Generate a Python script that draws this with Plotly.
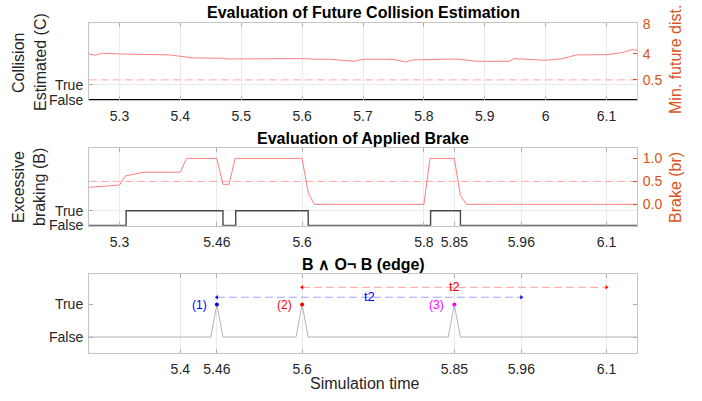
import plotly.graph_objects as go

FONT = "Liberation Sans, Arial, Helvetica, sans-serif"
ORANGE = "#D95319"
TXT = "#262626"
GRID = "#ebebeb"
FRAME = "#c4c4c4"

# ---------- Panel 1 data ----------
dist_t = [5.25, 5.26, 5.271, 5.30, 5.383, 5.394, 5.421, 5.47, 5.476, 5.607, 5.618, 5.645,
          5.678, 5.686, 5.70, 5.749, 5.77, 5.782, 5.853, 5.886, 5.94, 5.948, 6.0, 6.028,
          6.05, 6.099, 6.126, 6.14, 6.15]
dist_v = [3.98, 3.81, 4.08, 3.98, 3.85, 3.72, 3.45, 3.41, 3.31, 3.36, 3.27, 3.27,
          3.09, 3.0, 3.27, 3.27, 2.91, 3.18, 3.31, 3.0, 3.0, 3.36, 3.14, 3.36,
          3.85, 3.89, 4.16, 4.52, 4.52]
dist_threshold = 0.5
coll_t = [5.25, 6.15]
coll_v = [0, 0]
dist_ticks = [8, 4, 0.5]

# ---------- Panel 2 data ----------
brake_t = [5.25, 5.30, 5.31, 5.34, 5.40, 5.41, 5.46, 5.47, 5.48, 5.49, 5.60, 5.61, 5.62,
           5.80, 5.81, 5.85, 5.86, 5.87, 6.15]
brake_v = [0.37, 0.42, 0.62, 0.70, 0.70, 1.0, 1.0, 0.435, 0.435, 1.0, 1.0, 0.25, 0.0,
           0.0, 1.0, 1.0, 0.19, 0.0, 0.0]
brake_threshold = 0.5
exc_t = [5.25, 5.311, 5.47, 5.491, 5.61, 5.811, 5.86, 6.15]
exc_v = [0, 1, 0, 1, 0, 1, 0, 0]
brake_ticks = [0.0, 0.5, 1.0]

# ---------- Panel 3 data ----------
edge_t = [5.25, 5.45, 5.46, 5.47, 5.59, 5.60, 5.61, 5.84, 5.85, 5.86, 6.15]
edge_v = [0, 0, 1, 0, 0, 1, 0, 0, 1, 0, 0]
event_t = [5.46, 5.60, 5.85]
event_labels = ["(1)", "(2)", "(3)"]
event_colors = ["#0000ff", "#ff0000", "#ff00ff"]
t2_blue = [5.46, 5.96]
t2_red = [5.60, 6.10]
t2_blue_level = 1.225
t2_red_level = 1.53

x1_ticks = [5.3, 5.4, 5.5, 5.6, 5.7, 5.8, 5.9, 6.0, 6.1]
x1_text = ["5.3", "5.4", "5.5", "5.6", "5.7", "5.8", "5.9", "6", "6.1"]
x2_ticks = [5.3, 5.46, 5.6, 5.8, 5.85, 5.96, 6.1]
x3_ticks = [5.4, 5.46, 5.6, 5.85, 5.96, 6.1]

DASH = "8px,4px"

fig = go.Figure()

# Panel 1
fig.add_trace(go.Scatter(x=coll_t, y=coll_v, mode="lines", line=dict(color="#000000", width=1.5),
                         xaxis="x", yaxis="y", showlegend=False))
fig.add_trace(go.Scatter(x=[coll_t[0], coll_t[-1]], y=[dist_threshold, dist_threshold], mode="lines",
                         line=dict(color="#ffa8a8", width=1, dash=DASH),
                         xaxis="x", yaxis="y2", showlegend=False))
fig.add_trace(go.Scatter(x=dist_t, y=dist_v, mode="lines", line=dict(color="#ff7f7f", width=1),
                         xaxis="x", yaxis="y2", showlegend=False))

# Panel 2
fig.add_trace(go.Scatter(x=exc_t, y=exc_v, mode="lines", line=dict(color="#484848", width=1.4, shape="hv"),
                         xaxis="x2", yaxis="y3", showlegend=False))
fig.add_trace(go.Scatter(x=[brake_t[0], brake_t[-1]], y=[brake_threshold, brake_threshold], mode="lines",
                         line=dict(color="#ffa8a8", width=1, dash=DASH),
                         xaxis="x2", yaxis="y4", showlegend=False))
fig.add_trace(go.Scatter(x=brake_t, y=brake_v, mode="lines", line=dict(color="#ff7f7f", width=1),
                         xaxis="x2", yaxis="y4", showlegend=False))

# Panel 3
fig.add_trace(go.Scatter(x=edge_t, y=edge_v, mode="lines", line=dict(color="#b3b3b3", width=1),
                         xaxis="x3", yaxis="y5", showlegend=False))
fig.add_trace(go.Scatter(x=t2_red, y=[t2_red_level] * 2, mode="lines+markers",
                         line=dict(color="#ffa0a0", width=1, dash=DASH),
                         marker=dict(symbol=["triangle-left", "triangle-right"], size=4, color="#ff0000"),
                         xaxis="x3", yaxis="y5", showlegend=False))
fig.add_trace(go.Scatter(x=t2_blue, y=[t2_blue_level] * 2, mode="lines+markers",
                         line=dict(color="#a0a0ff", width=1, dash=DASH),
                         marker=dict(symbol=["triangle-left", "triangle-right"], size=4, color="#0000ff"),
                         xaxis="x3", yaxis="y5", showlegend=False))
fig.add_trace(go.Scatter(x=event_t, y=[1] * len(event_t), mode="markers",
                         marker=dict(size=4, color=event_colors),
                         xaxis="x3", yaxis="y5", showlegend=False))

xdom = [89 / 702, 637 / 702]
def ydom(top, bot):
    return [1 - bot / 401, 1 - top / 401]

tickfont = dict(family=FONT, size=14, color=TXT)
common_x = dict(range=[5.25, 6.15], showgrid=True, gridcolor=GRID, showline=True, linecolor=FRAME,
                mirror="ticks", ticks="inside", ticklen=4, tickcolor="#b0b0b0", tickfont=tickfont,
                zeroline=False, domain=xdom, tickmode="array", ticklabelstandoff=3, automargin=False)

fig.update_layout(
    width=702, height=401, margin=dict(l=0, r=0, t=0, b=0),
    paper_bgcolor="white", plot_bgcolor="white", showlegend=False,
    font=dict(family=FONT, color=TXT),
    xaxis=dict(common_x, anchor="y", tickvals=x1_ticks, ticktext=x1_text),
    xaxis2=dict(common_x, anchor="y3", tickvals=x2_ticks, ticktext=[str(v) for v in x2_ticks]),
    xaxis3=dict(common_x, anchor="y5", tickvals=x3_ticks, ticktext=[str(v) for v in x3_ticks]),
    yaxis=dict(domain=ydom(23.3, 100), range=[-0.02, 5.1], tickmode="array", tickvals=[0, 1],
               ticktext=["False", "True"], showgrid=True, gridcolor=GRID, zeroline=False,
               showline=True, linecolor=FRAME, ticks="inside", ticklen=4, tickcolor="#b0b0b0",
               tickfont=tickfont, ticklabelstandoff=2, automargin=False),
    yaxis2=dict(overlaying="y", side="right", anchor="x", range=[-2.2, 8.1], tickmode="array",
                tickvals=dist_ticks, ticktext=["8", "4", "0.5"], showgrid=False, zeroline=False,
                showline=True, linecolor="#f3c2ad", ticks="inside", ticklen=4, tickcolor=ORANGE,
                tickfont=dict(family=FONT, size=14, color=ORANGE), ticklabelstandoff=2, automargin=False),
    yaxis3=dict(domain=ydom(148.3, 225.7), range=[-0.02, 5.25], tickmode="array", tickvals=[0, 1],
                ticktext=["False", "True"], showgrid=True, gridcolor=GRID, zeroline=False,
                showline=True, linecolor=FRAME, ticks="inside", ticklen=4, tickcolor="#b0b0b0",
                tickfont=tickfont, ticklabelstandoff=2, automargin=False),
    yaxis4=dict(overlaying="y3", side="right", anchor="x2", range=[-0.465, 1.22], tickmode="array",
                tickvals=brake_ticks, ticktext=["0.0", "0.5", "1.0"], showgrid=False, zeroline=False,
                showline=True, linecolor=FRAME, ticks="inside", ticklen=4, tickcolor=ORANGE,
                tickfont=dict(family=FONT, size=14, color=ORANGE), ticklabelstandoff=2, automargin=False),
    yaxis5=dict(domain=ydom(274.3, 353.3), anchor="x3", range=[-0.5, 1.93], tickmode="array",
                tickvals=[0, 1], ticktext=["False", "True"], showgrid=False, zeroline=False,
                showline=True, linecolor=FRAME, mirror="ticks", ticks="inside", ticklen=4,
                tickcolor="#b0b0b0", tickfont=tickfont, ticklabelstandoff=2, automargin=False),
)

def paper_y(px):
    return 1 - px / 401

annots = [
    dict(text="<b>Evaluation of Future Collision Estimation</b>", x=363 / 702, y=paper_y(12),
         font=dict(size=16, color="#000000")),
    dict(text="<b>Evaluation of Applied Brake</b>", x=363 / 702, y=paper_y(138),
         font=dict(size=16, color="#000000")),
    dict(text="<b>B ∧ O¬ B (edge)</b>", x=363 / 702, y=paper_y(264),
         font=dict(size=16, color="#000000")),
    dict(text="Simulation time", x=364 / 702, y=paper_y(383), font=dict(size=16, color=TXT)),
    dict(text="Collision", x=19 / 702, y=paper_y(63), textangle=-90, font=dict(size=16, color=TXT)),
    dict(text="Estimated (C)", x=40 / 702, y=paper_y(62), textangle=-90, font=dict(size=16, color=TXT)),
    dict(text="Excessive", x=19 / 702, y=paper_y(187), textangle=-90, font=dict(size=16, color=TXT)),
    dict(text="braking (B)", x=40 / 702, y=paper_y(187), textangle=-90, font=dict(size=16, color=TXT)),
    dict(text="Min. future dist.", x=675 / 702, y=paper_y(60), textangle=-90,
         font=dict(size=16, color=ORANGE)),
    dict(text="Brake (br)", x=675 / 702, y=paper_y(188), textangle=-90,
         font=dict(size=16, color=ORANGE)),
]
for a in annots:
    a.update(xref="paper", yref="paper", showarrow=False, xanchor="center", yanchor="middle")
    a["font"]["family"] = FONT
    fig.add_annotation(**a)

for t, lab, col in zip(event_t, event_labels, event_colors):
    fig.add_annotation(x=t, y=1, xref="x3", yref="y5", text=lab, showarrow=False,
                       xanchor="right", yanchor="middle", xshift=-8,
                       font=dict(family=FONT, size=12, color=col))

fig.add_annotation(x=(t2_blue[0] + t2_blue[1]) / 2, y=t2_blue_level, xref="x3", yref="y5", text="t2",
                   showarrow=False, yanchor="middle", yshift=1, font=dict(family=FONT, size=13, color="#0000ff"))
fig.add_annotation(x=(t2_red[0] + t2_red[1]) / 2, y=t2_red_level, xref="x3", yref="y5", text="t2",
                   showarrow=False, yanchor="middle", yshift=1, font=dict(family=FONT, size=13, color="#ff0000"))

fig.write_html("out.html", config={"displayModeBar": False},
               post_script="document.body.style.margin='0';document.body.style.padding='0';")
